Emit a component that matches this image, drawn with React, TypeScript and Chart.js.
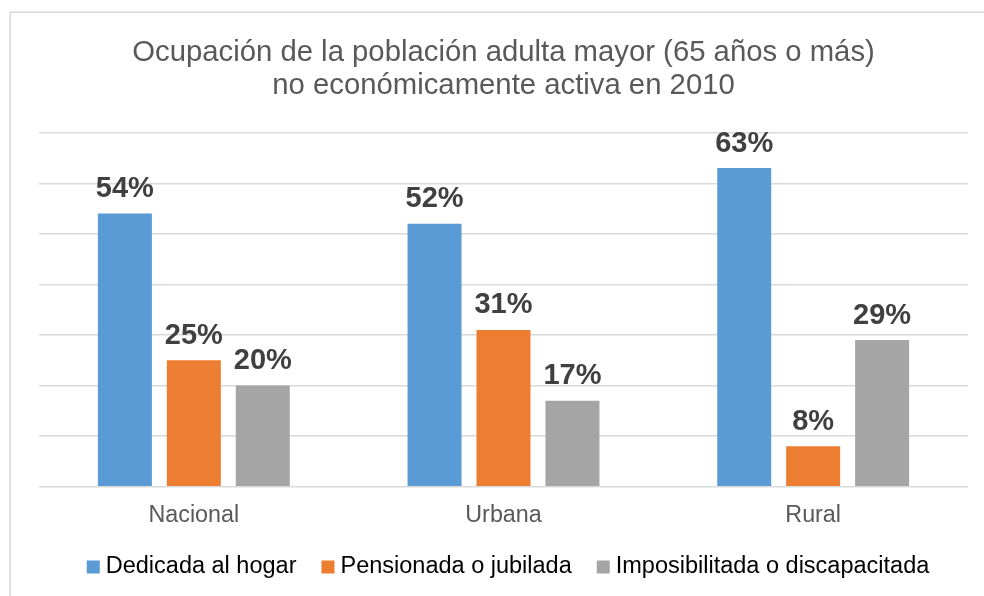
import React, { useEffect, useRef } from 'react';
import { Chart, registerables } from 'chart.js';

Chart.register(...registerables);

const categories = ['Nacional', 'Urbana', 'Rural'];
const seriesNames = ['Dedicada al hogar', 'Pensionada o jubilada', 'Imposibilitada o discapacitada'];
const hogar = [54, 52, 63];
const pensionada = [25, 31, 8];
const imposibilitada = [20, 17, 29];
const seriesColors = ['#5B9BD5', '#ED7D31', '#A5A5A5'];
const titleLines = ['Ocupación de la población adulta mayor (65 años o más)', 'no económicamente activa en 2010'];
const yMin = 0;
const yMax = 70;
const yStep = 10;

const FONT = '"Liberation Sans", Arial, Helvetica, sans-serif';

const framePlugin = {
  id: 'frame',
  beforeDraw(chart: any) {
    const ctx = chart.ctx;
    ctx.save();
    ctx.fillStyle = '#ffffff';
    ctx.fillRect(0, 0, chart.width, chart.height);
    ctx.strokeStyle = '#d9d9d9';
    ctx.lineWidth = 1.5;
    ctx.beginPath();
    ctx.moveTo(10.25, chart.height + 2);
    ctx.lineTo(10.25, 12.25);
    ctx.lineTo(chart.width + 2, 12.25);
    ctx.stroke();
    ctx.restore();
  },
};

const valueLabelPlugin = {
  id: 'valueLabels',
  afterDatasetsDraw(chart: any) {
    const ctx = chart.ctx;
    ctx.save();
    ctx.font = `bold 29px ${FONT}`;
    ctx.fillStyle = '#404040';
    ctx.textAlign = 'center';
    ctx.textBaseline = 'alphabetic';
    chart.data.datasets.forEach((ds: any, i: number) => {
      const meta = chart.getDatasetMeta(i);
      meta.data.forEach((el: any, j: number) => {
        ctx.fillText(`${ds.data[j]}%`, el.x, el.y - 16.5);
      });
    });
    ctx.restore();
  },
};

const customLegendPlugin = {
  id: 'customLegend',
  afterDraw(chart: any) {
    const ctx = chart.ctx;
    ctx.save();
    ctx.font = `23.5px ${FONT}`;
    const box = 13;
    const boxGap = 6;
    const itemGap = 25;
    const items = chart.data.datasets.map((ds: any) => ({
      text: ds.label,
      color: ds.backgroundColor,
      w: ctx.measureText(ds.label).width,
    }));
    const total = items.reduce((s: number, it: any) => s + box + boxGap + it.w, 0) + itemGap * (items.length - 1);
    let x = 508 - total / 2;
    const cy = 567;
    ctx.textBaseline = 'middle';
    ctx.textAlign = 'left';
    items.forEach((it: any) => {
      ctx.fillStyle = it.color;
      ctx.fillRect(x, cy - box / 2, box, box);
      ctx.fillStyle = '#000000';
      ctx.fillText(it.text, x + box + boxGap, cy);
      x += box + boxGap + it.w + itemGap;
    });
    ctx.restore();
  },
};

export default function App() {
  const canvasRef = useRef<HTMLCanvasElement | null>(null);

  useEffect(() => {
    if (!canvasRef.current) return;
    const seriesValues = [hogar, pensionada, imposibilitada];
    const chart = new Chart(canvasRef.current, {
      type: 'bar',
      data: {
        labels: categories,
        datasets: seriesNames.map((name, i) => ({
          label: name,
          data: seriesValues[i],
          backgroundColor: seriesColors[i],
          borderWidth: 0,
          categoryPercentage: 0.668,
          barPercentage: 0.783,
        })),
      },
      options: {
        responsive: false,
        animation: false,
        devicePixelRatio: 1,
        layout: { padding: { top: 0, left: 39, right: 16, bottom: 52.3 } },
        plugins: {
          legend: { display: false },
          tooltip: { enabled: false },
          title: {
            display: true,
            text: titleLines,
            color: '#595959',
            font: { family: FONT, size: 29.3, weight: 'normal', lineHeight: 33 / 29.3 },
            padding: { top: 36.5, bottom: 30.2 },
          },
        },
        scales: {
          x: {
            grid: { display: false, drawTicks: false },
            border: { display: false },
            ticks: {
              color: '#595959',
              font: { family: FONT, size: 23.3 },
              padding: 14.5,
            },
          },
          y: {
            min: yMin,
            max: yMax,
            ticks: { display: false, stepSize: yStep },
            grid: { color: '#d9d9d9', lineWidth: 1.5, drawTicks: false },
            border: { display: false },
          },
        },
      },
      plugins: [framePlugin, valueLabelPlugin, customLegendPlugin],
    });
    return () => chart.destroy();
  }, []);

  return (
    <div style={{ position: 'fixed', left: 0, top: 0, width: 984, height: 596, background: '#fff' }}>
      <canvas ref={canvasRef} width={984} height={596} style={{ display: 'block' }} />
    </div>
  );
}
